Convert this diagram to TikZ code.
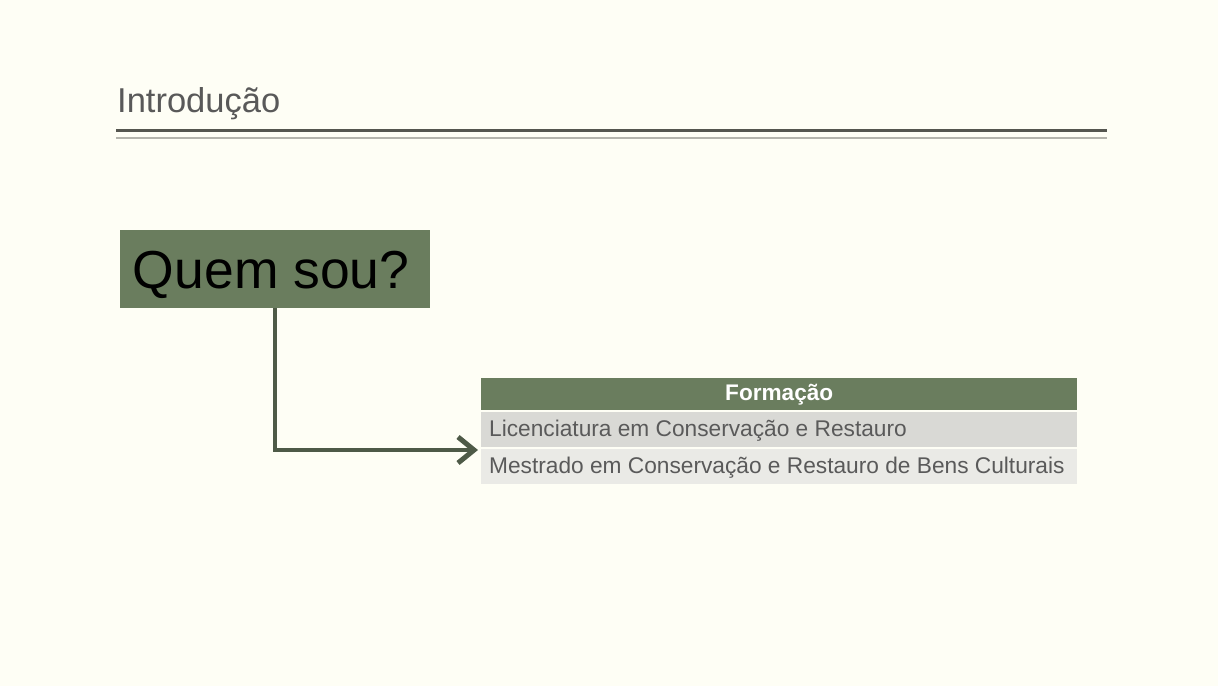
\documentclass[tikz,border=0pt]{standalone}
\usepackage{fontspec}
\setmainfont{Liberation Sans}
\usetikzlibrary{arrows.meta}
\definecolor{bg}{HTML}{FEFEF5}
\definecolor{titlegray}{HTML}{595959}
\definecolor{rulegray}{HTML}{55564F}
\definecolor{rulelight}{HTML}{B4B4AC}
\definecolor{sage}{HTML}{6A7D5E}
\definecolor{connector}{HTML}{4E5A47}
\definecolor{rowa}{HTML}{D9D9D5}
\definecolor{rowb}{HTML}{EAEAE6}
\definecolor{rowtext}{HTML}{5A5A5A}
\newcommand\celltext[1]{\makebox[580pt][l]{#1}}
\tikzset{
  titletext/.style={anchor=base west, inner sep=0pt, text=titlegray, font=\fontsize{34.5}{40}\selectfont},
  bigbox/.style={anchor=north west, fill=sage, minimum width=310pt, minimum height=78pt, inner sep=0pt, text=black, font=\fontsize{53.5}{60}\selectfont, text height=42pt, text depth=4pt},
  headcell/.style={anchor=north west, fill=sage, minimum width=596pt, minimum height=32pt, inner sep=0pt, text=white, font=\bfseries\fontsize{22.6}{26}\selectfont},
  rowcell/.style={anchor=north west, minimum width=596pt, minimum height=35pt, inner xsep=8pt, inner ysep=0pt, text=rowtext, font=\fontsize{22.7}{26}\selectfont, text height=18pt, text depth=5pt},
  link/.style={draw=connector, line width=4pt, -{Straight Barb[length=16pt,width=26pt,line width=5pt]}}
}
\begin{document}
\begin{tikzpicture}[x=1pt,y=-1pt]
\useasboundingbox (0,0) rectangle (1218,686);
\fill[bg] (0,0) rectangle (1218,686);
\node[titletext] (title) at (117,112) {Introdução};
\draw[rulegray, line width=3pt] (116,130) -- (1107,130);
\draw[rulelight, line width=1.5pt] (116,138) -- (1107,138);
\node[bigbox] (quem) at (120,230) {\hspace*{-8pt}Quem sou?};
\node[headcell] (head) at (481,378) {Formação};
\node[rowcell, fill=rowa] (row1) at (481,412) {\celltext{Licenciatura em Conservação e Restauro}};
\node[rowcell, fill=rowb] (row2) at (481,449) {\celltext{Mestrado em Conservação e Restauro de Bens Culturais}};
\coordinate (tip) at (478,450);
\draw[link] (quem.south) |- (tip);
\end{tikzpicture}
\end{document}
